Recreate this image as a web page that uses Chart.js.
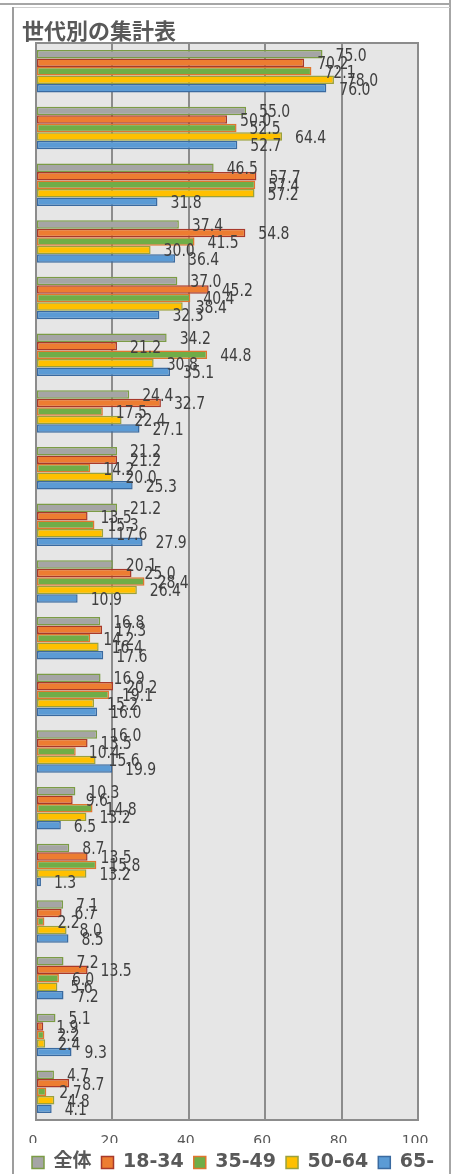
<!DOCTYPE html>
<html lang="ja">
<head>
<meta charset="utf-8">
<title>世代別の集計表</title>
<script src="https://cdn.jsdelivr.net/npm/chart.js@4/dist/chart.umd.min.js"></script>
<style>
  html, body { margin: 0; padding: 0; background: #fff; overflow: hidden; }
  body { width: 452px; height: 1174px; position: relative; }
  .top-rule { position: absolute; left: 0; top: 3px; width: 451px; height: 2px; background: #a6a6a6; }
  .right-rule { position: absolute; left: 449px; top: 0; width: 2px; height: 1174px; background: #a6a6a6; }
  .box-top { position: absolute; left: 13px; top: 7px; width: 437px; height: 1px; background: #cfcfcf; }
  .box-left { position: absolute; left: 12px; top: 7px; width: 2px; height: 1167px; background: #9d9d9d; }
  #wrap { position: absolute; left: 14px; top: 8px; width: 438px; height: 1174px; }
</style>
</head>
<body>
<div class="top-rule"></div>
<div class="right-rule"></div>
<div class="box-top"></div>
<div class="box-left"></div>
<div id="wrap"><canvas id="ageChart"></canvas></div>

<script>
// 項目名は元の図では見えていない
const categories = ['項目1', '項目2', '項目3', '項目4', '項目5', '項目6', '項目7', '項目8', '項目9', '項目10',
                    '項目11', '項目12', '項目13', '項目14', '項目15', '項目16', '項目17', '項目18', '項目19'];
const seriesNames = ['全体', '18-34', '35-49', '50-64', '65-'];

const allAges = [75.0, 55.0, 46.5, 37.4, 37.0, 34.2, 24.4, 21.2, 21.2, 20.1, 16.8, 16.9, 16.0, 10.3, 8.7, 7.1, 7.2, 5.1, 4.7];
const age18to34 = [70.2, 50.0, 57.7, 54.8, 45.2, 21.2, 32.7, 21.2, 13.5, 25.0, 17.3, 20.2, 13.5, 9.6, 13.5, 6.7, 13.5, 1.9, 8.7];
const age35to49 = [72.1, 52.5, 57.4, 41.5, 40.4, 44.8, 17.5, 14.2, 15.3, 28.4, 14.2, 19.1, 10.4, 14.8, 15.8, 2.2, 6.0, 2.2, 2.7];
const age50to64 = [78.0, 64.4, 57.2, 30.0, 38.4, 30.8, 22.4, 20.0, 17.6, 26.4, 16.4, 15.2, 15.6, 13.2, 13.2, 8.0, 5.6, 2.4, 4.8];
const age65plus = [76.0, 52.7, 31.8, 36.4, 32.3, 35.1, 27.1, 25.3, 27.9, 10.9, 17.6, 16.0, 19.9, 6.5, 1.3, 8.5, 7.2, 9.3, 4.1];

const xTicks = [0, 20, 40, 60, 80, 100];

const fills = ['#a5a5a5', '#ed7d31', '#70ad47', '#ffc000', '#5b9bd5'];
const edges = ['#7b9c45', '#a8392b', '#e0762e', '#9aa13c', '#3a6aa0'];

Chart.defaults.font.family = "'DejaVu Sans', 'Noto Sans CJK JP', sans-serif";
Chart.defaults.color = '#595959';

// plot background + frame, then value labels next to each bar
const plotFrame = {
    id: 'plotFrame',
    beforeDraw(chart) {
        const { ctx, chartArea: a } = chart;
        ctx.save();
        ctx.fillStyle = '#e6e6e6';
        ctx.fillRect(a.left, a.top, a.right - a.left, a.bottom - a.top);
        ctx.restore();
    },
    afterDatasetsDraw(chart) {
        const { ctx, chartArea: a } = chart;
        ctx.save();
        ctx.strokeStyle = '#8c8c8c';
        ctx.lineWidth = 2;
        ctx.strokeRect(a.left, a.top, a.right - a.left, a.bottom - a.top);

        ctx.fillStyle = '#404040';
        ctx.font = "14px 'DejaVu Sans', sans-serif";
        ctx.textAlign = 'left';
        ctx.textBaseline = 'middle';
        chart.data.datasets.forEach((ds, i) => {
            chart.getDatasetMeta(i).data.forEach((bar, j) => {
                ctx.save();
                ctx.translate(bar.x + 13, bar.y + 2);
                ctx.scale(1, 1.2);
                ctx.fillText(ds.data[j].toFixed(1), 0, 0);
                ctx.restore();
            });
        });
        ctx.restore();
    }
};

const seriesData = [allAges, age18to34, age35to49, age50to64, age65plus];

new Chart(document.getElementById('ageChart'), {
    type: 'bar',
    data: {
        labels: categories,
        datasets: seriesNames.map((name, i) => ({
            label: name,
            data: seriesData[i],
            backgroundColor: fills[i],
            borderColor: edges[i],
            borderWidth: 1.5,
            borderSkipped: false,
            categoryPercentage: 0.75,
            barPercentage: 1.0
        }))
    },
    options: {
        indexAxis: 'y',
        responsive: true,
        maintainAspectRatio: false,
        animation: false,
        devicePixelRatio: 1,
        layout: { padding: { left: 8, right: 0, top: 0, bottom: 0 } },
        scales: {
            x: {
                min: 0,
                max: 100,
                afterBuildTicks: scale => { scale.ticks = xTicks.map(v => ({ value: v })); },
                grid: { color: '#8c8c8c', lineWidth: 2, drawTicks: false },
                border: { display: false },
                ticks: { padding: 14, labelOffset: -3, font: { size: 14, lineHeight: 1 }, color: '#595959' },
                afterFit: scale => { scale.height = 23; }
            },
            y: {
                grid: { display: false },
                border: { display: false },
                ticks: { display: false },
                afterFit: scale => { scale.width = 14; }
            },
            yRight: {
                type: 'linear',
                axis: 'y',
                position: 'right',
                grid: { display: false },
                border: { display: false },
                ticks: { display: false },
                afterFit: scale => { scale.width = 34; }
            }
        },
        plugins: {
            title: {
                display: true,
                text: '世代別の集計表',
                align: 'start',
                color: '#595959',
                font: { family: "'Noto Sans CJK JP', sans-serif", size: 22, weight: 'bold', lineHeight: 1 },
                padding: { top: 12, bottom: 1 }
            },
            legend: {
                position: 'bottom',
                align: 'start',
                labels: {
                    boxWidth: 12,
                    boxHeight: 12,
                    padding: 10,
                    color: '#595959',
                    font: { size: 19, weight: 'bold', lineHeight: 1 }
                }
            },
            tooltip: { enabled: false }
        }
    },
    plugins: [plotFrame]
});
</script>
</body>
</html>
